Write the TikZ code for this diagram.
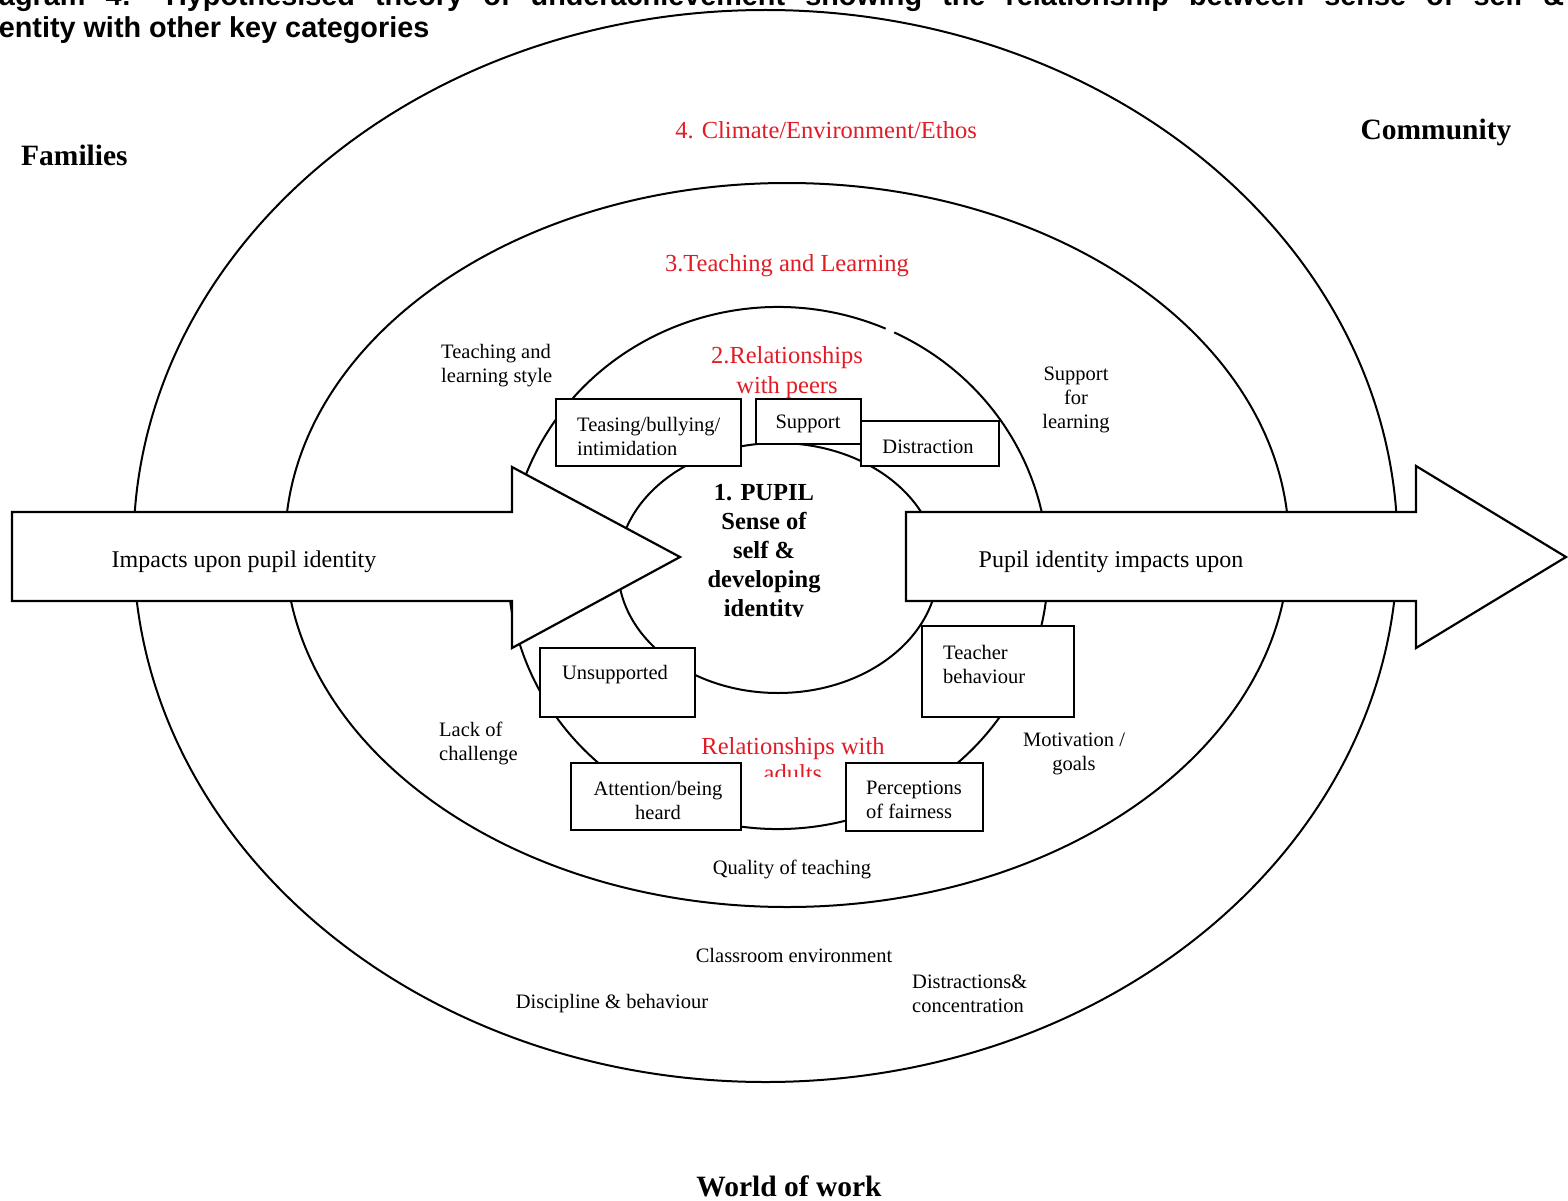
\documentclass[tikz,border=0pt]{standalone}
\usepackage{fontspec}
\setmainfont{Liberation Serif}
\newfontfamily\arialfont{Liberation Sans}
\definecolor{redtxt}{RGB}{225,28,38}
\begin{document}
\begin{tikzpicture}[x=1pt,y=-1pt,
  ring/.style={draw=black, line width=2pt},
  bigarrow/.style={draw=black, line width=2.2pt, fill=white, line join=miter},
  boxnode/.style={draw=black, line width=2.3pt, fill=white, rectangle, inner sep=0pt},
  mylab/.style={font=\fontsize{20.5}{24}\selectfont, inner sep=0pt, yshift=-3pt},
  myred/.style={font=\fontsize{24.5}{30}\selectfont, text=redtxt, inner sep=0pt, align=center, yshift=-3pt},
  mybig/.style={font=\fontsize{29.5}{34}\selectfont\bfseries, inner sep=0pt, yshift=-3pt},
  myarrowtxt/.style={font=\fontsize{24}{28}\selectfont, inner sep=0pt, yshift=-3pt},
  mytitle/.style={font=\arialfont\bfseries\fontsize{28.8}{33}\selectfont, inner sep=0pt}
]
\useasboundingbox (0,0) rectangle (1568,1201);
\clip (0,0) rectangle (1568,1201);
\fill[white] (0,0) rectangle (1568,1201);

% title (cut off by the page edge)
\node[mytitle, anchor=base west] (title1) at (-30,6) {\makebox[1594pt][s]{Diagram 4: Hypothesised theory of underachievement showing the relationship between sense of self \&}};
\node[mytitle, anchor=base west] (title2) at (-27,38) {identity with other key categories};

% rings
\draw[ring] (765.5,546) ellipse [x radius=632pt, y radius=536pt];
\draw[ring] (787,545) ellipse [x radius=502pt, y radius=362pt];
\draw[ring] (778,568) ++(66.5:270pt and 261pt) arc[start angle=66.5, end angle=424.5, x radius=270pt, y radius=261pt];
\draw[ring] (778,568) ellipse [x radius=160pt, y radius=125pt];

% big arrows
\draw[bigarrow] (12,512) -- (512,512) -- (512,467) -- (680,557) -- (512,648) -- (512,601) -- (12,601) -- cycle;
\draw[bigarrow] (906,512) -- (1416,512) -- (1416,466) -- (1566,557) -- (1416,648) -- (1416,601) -- (906,601) -- cycle;
\node[myarrowtxt] (impl) at (244,559) {Impacts upon pupil identity};
\node[myarrowtxt] (impr) at (1111,559) {Pupil identity impacts upon};

% boxes
\node[boxnode, minimum width=185pt, minimum height=67pt] (teasing) at (648.5,432.5) {};
\node[boxnode, minimum width=105pt, minimum height=45pt] (support) at (808.5,421.5) {};
\node[boxnode, minimum width=138pt, minimum height=45pt] (distr) at (930,443.5) {};
\node[boxnode, minimum width=152pt, minimum height=91pt] (teacher) at (998,671.5) {};
\node[boxnode, minimum width=155pt, minimum height=69pt] (unsup) at (617.5,682.5) {};
\node[boxnode, minimum width=170pt, minimum height=67pt] (attn) at (656,796.5) {};
\node[boxnode, minimum width=137pt, minimum height=68pt] (perc) at (914.5,797) {};

% box texts
\node[mylab, anchor=west, align=left] (teasingt) at (577,433) {Teasing/bullying/\\intimidation};
\node[mylab] (supportt) at (808,421) {Support};
\node[mylab] (distrt) at (928,444) {Distraction};
\node[mylab, anchor=west, align=left] (teachert) at (943,661) {Teacher\\behaviour};
\node[mylab] (unsupt) at (615,672) {Unsupported};
\node[mylab, align=center] (attnt) at (658,797) {Attention/being\\heard};
\node[mylab, anchor=west, align=left] (perct) at (866,797) {Perceptions\\of fairness};

% red category titles
\node[myred] (cat4) at (826,127) {4. Climate/Environment/Ethos};
\node[myred] (cat3) at (787,263) {3.Teaching and Learning};
\node[myred] (cat2) at (787,370) {2.Relationships\\with peers};
\begin{scope}
\clip (680,720) rectangle (900,776);
\node[myred, font=\fontsize{24.5}{27}\selectfont] (catadults) at (793,757) {Relationships with\\adults};
\end{scope}

% pupil centre
\begin{scope}
\clip (640,470) rectangle (900,616);
\node[inner sep=0pt, align=center, font=\fontsize{24.5}{29}\selectfont\bfseries, yshift=-3pt] (pupil) at (764,550) {1. PUPIL\\Sense of\\self \&\\developing\\identity};
\end{scope}

% black labels
\node[mylab, anchor=west, align=left] (tls) at (441,363) {Teaching and\\learning style};
\node[mylab, align=center] (sfl) at (1076,397) {Support\\for\\learning};
\node[mylab, anchor=west, align=left] (loc) at (439,740) {Lack of\\challenge};
\node[mylab, align=center] (mot) at (1074,751) {Motivation /\\goals};
\node[mylab] (qot) at (792,866) {Quality of teaching};
\node[mylab] (cle) at (794,952) {Classroom environment};
\node[mylab] (dab) at (612,1001) {Discipline \& behaviour};
\node[mylab, anchor=west, align=left] (dac) at (912,991) {Distractions\&\\concentration};

% outer contexts
\node[mybig, anchor=west] (fam) at (21,152) {Families};
\node[mybig] (com) at (1436,129) {Community};
\node[mybig] (wow) at (789,1183) {World of work};
\end{tikzpicture}
\end{document}
